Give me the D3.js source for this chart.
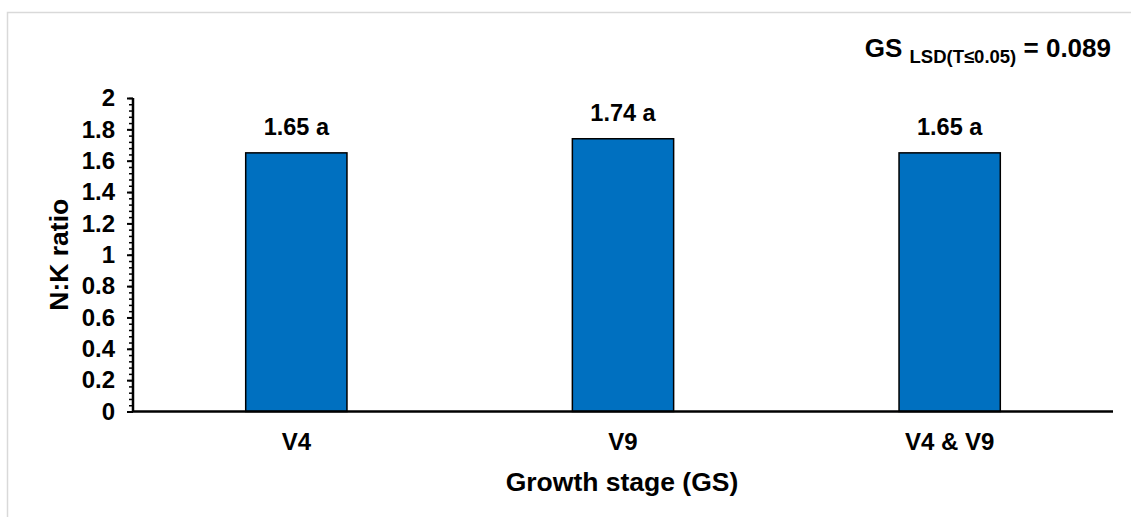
<!DOCTYPE html>
<html>
<head>
<meta charset="utf-8">
<script src="https://cdn.jsdelivr.net/npm/d3@7"></script>
<style>
  html, body { margin: 0; padding: 0; background: #fff; }
  svg { display: block; font-family: "Liberation Sans", Arial, sans-serif; }
</style>
</head>
<body>
<svg id="chart" width="1131" height="517"></svg>
<script>
const categories = ["V4", "V9", "V4 & V9"];
const values = [1.65, 1.74, 1.65];
const letters = ["a", "a", "a"];
const yTicks = [0, 0.2, 0.4, 0.6, 0.8, 1, 1.2, 1.4, 1.6, 1.8, 2];
const yMinorTicks = d3.range(0, 2.0001, 0.04);

const svg = d3.select("#chart");
const W = 1131, H = 517;
const margin = { left: 133, right: 18, top: 98, bottom: 106 };
const plotW = 1113 - margin.left;
const plotH = 411.5 - margin.top;

// outer border
svg.append("path")
  .attr("d", `M7.5,${H} V12.5 H${W}`)
  .attr("fill", "none")
  .attr("stroke", "#d9d9d9")
  .attr("stroke-width", 1.5);

const g = svg.append("g").attr("transform", `translate(${margin.left},${margin.top})`);

const x = d3.scaleBand().domain(categories).range([0, plotW]).paddingInner(0.69).paddingOuter(0.345);
const y = d3.scaleLinear().domain([0, 2]).range([plotH, 0]);

// bars
g.selectAll("rect.bar").data(values).enter().append("rect")
  .attr("class", "bar")
  .attr("x", (d, i) => x(categories[i]))
  .attr("y", d => y(d))
  .attr("width", x.bandwidth())
  .attr("height", d => y(0) - y(d))
  .attr("fill", "#0070C0")
  .attr("stroke", "#000")
  .attr("stroke-width", 1.5);

// bar labels
g.selectAll("text.lbl").data(values).enter().append("text")
  .attr("class", "lbl")
  .attr("x", (d, i) => x(categories[i]) + x.bandwidth() / 2)
  .attr("y", d => y(d) - 18)
  .attr("text-anchor", "middle")
  .attr("font-weight", "bold")
  .attr("font-size", 23.5)
  .attr("fill", "#000")
  .text((d, i) => d.toFixed(2) + " " + letters[i]);

// y minor ticks
const yMinor = g.append("g")
  .call(d3.axisLeft(y).tickValues(yMinorTicks).tickSize(4).tickFormat(""));
yMinor.select(".domain").remove();
yMinor.selectAll("line").attr("stroke", "#000").attr("stroke-width", 1.5);

// y axis
const yAxis = g.append("g")
  .call(d3.axisLeft(y).tickValues(yTicks).tickSize(6).tickPadding(12).tickFormat(d3.format("~g")));
yAxis.select(".domain").attr("stroke", "#000").attr("stroke-width", 2.5).attr("d", `M0,0V${plotH}`);
yAxis.selectAll("line").attr("stroke", "#000").attr("stroke-width", 2);
yAxis.selectAll("text")
  .attr("font-family", "'Liberation Sans', Arial, sans-serif")
  .attr("font-weight", "bold")
  .attr("font-size", 24)
  .attr("fill", "#000");

// x axis
const xAxis = g.append("g").attr("transform", `translate(0,${plotH})`)
  .call(d3.axisBottom(x).tickSize(0).tickPadding(21));
xAxis.select(".domain").attr("stroke", "#000").attr("stroke-width", 2.5).attr("d", `M0,0H${plotW}`);
xAxis.selectAll("text")
  .attr("font-family", "'Liberation Sans', Arial, sans-serif")
  .attr("font-weight", "bold")
  .attr("font-size", 24)
  .attr("fill", "#000");

// axis titles
svg.append("text")
  .attr("x", 622)
  .attr("y", 491)
  .attr("text-anchor", "middle")
  .attr("font-weight", "bold")
  .attr("font-size", 26.5)
  .attr("fill", "#000")
  .text("Growth stage (GS)");

svg.append("text")
  .attr("transform", `translate(68,${margin.top + plotH / 2}) rotate(-90)`)
  .attr("text-anchor", "middle")
  .attr("font-weight", "bold")
  .attr("font-size", 26.5)
  .attr("fill", "#000")
  .text("N:K ratio");

// LSD annotation
const ann = svg.append("text")
  .attr("x", 1111)
  .attr("y", 57)
  .attr("text-anchor", "end")
  .attr("font-weight", "bold")
  .attr("font-size", 26)
  .attr("fill", "#000");
ann.append("tspan").text("GS ");
ann.append("tspan").attr("font-size", 18.5).attr("dy", 6).text("LSD(T≤0.05)");
ann.append("tspan").attr("dy", -6).text(" = 0.089");
</script>
</body>
</html>
